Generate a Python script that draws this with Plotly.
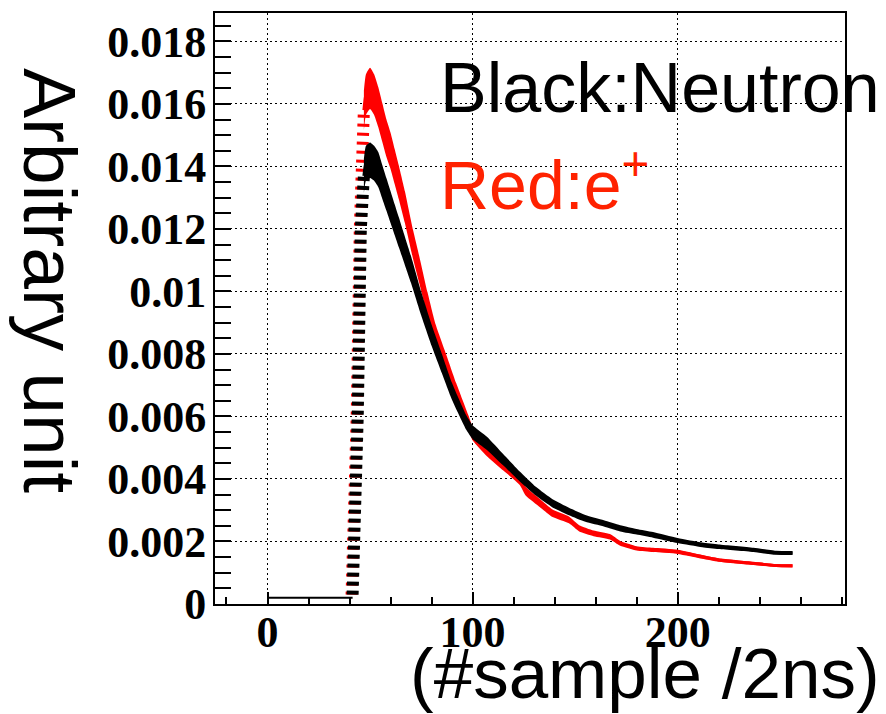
import plotly.graph_objects as go

# Averaged pulse shapes (amplitude per 2 ns sample), normalised to unit area
# Pedestal before the pulse
pedestal_x = [0, 41.5]
pedestal_y = [0.0002, 0.0002]

# Leading edge samples
neutron_rise_x = [41.5, 43, 44, 45.5, 47]
neutron_rise_y = [0.0003, 0.003, 0.006, 0.012, 0.0137]
positron_rise_x = [41, 42.5, 43.5, 45, 46.5, 47]
positron_rise_y = [0.0003, 0.003, 0.006, 0.012, 0.0148, 0.0158]

# Neutron pulse (peak and tail) with per-sample uncertainty
neutron_x = [47, 48, 50, 52, 54, 56, 58, 60, 62, 64,
             66, 70, 75, 80, 85, 90, 97, 100, 107, 115,
             123, 131, 139, 147, 155, 164, 172, 180, 188, 200,
             212, 220, 237, 248, 256]
neutron_y = [0.0137, 0.0141, 0.0142, 0.0141, 0.0139, 0.0135, 0.0131, 0.0127, 0.0123, 0.0119,
             0.0115, 0.0107, 0.0096, 0.0086, 0.0077, 0.0068, 0.0058, 0.0055, 0.00514, 0.00461,
             0.00408, 0.0036, 0.00322, 0.00296, 0.00274, 0.00258, 0.00242, 0.00231, 0.00221, 0.00203,
             0.00189, 0.00183, 0.00173, 0.00164, 0.00163]
neutron_err = [0.00055, 0.00056, 0.00057, 0.00056, 0.00056, 0.00054, 0.00052, 0.00051, 0.00049, 0.00048,
               0.00046, 0.00043, 0.00038, 0.00034, 0.00031, 0.00027, 0.00023, 0.00022, 0.00021, 0.00018,
               0.00016, 0.00014, 0.00013, 0.00012, 0.00011, 0.0001, 0.0001, 0.00009, 0.00009, 0.00008,
               0.000075, 0.000073, 0.000069, 0.000066, 0.000065]

# Positron pulse (peak and tail) with per-sample uncertainty
positron_x = [47, 48, 50, 52, 54, 56, 58, 60, 62, 64,
              67, 71, 74, 78, 82, 87, 92, 98, 100, 107,
              115, 123, 126, 133, 139, 147, 152, 159, 167, 172,
              180, 188, 200, 212, 220, 237, 248, 256]
positron_y = [0.0158, 0.0163, 0.0165, 0.0163, 0.0159, 0.0154, 0.0149, 0.0145, 0.0140, 0.0135,
              0.0127, 0.0115, 0.0107, 0.0096, 0.0086, 0.0077, 0.0068, 0.0058, 0.00546, 0.00493,
              0.00445, 0.00397, 0.0036, 0.00322, 0.0029, 0.00269, 0.00242, 0.00226, 0.00215, 0.00194,
              0.00178, 0.00173, 0.00167, 0.00151, 0.00141, 0.0013, 0.00123, 0.00122]
positron_err = [0.00063, 0.00065, 0.00066, 0.00065, 0.00064, 0.00062, 0.0006, 0.00058, 0.00056, 0.00054,
                0.00051, 0.00046, 0.00043, 0.00038, 0.00034, 0.00031, 0.00027, 0.00023, 0.00022, 0.0002,
                0.00018, 0.00016, 0.00014, 0.00013, 0.00012, 0.00011, 0.0001, 0.00009, 0.000086, 0.000078,
                0.000071, 0.000069, 0.000067, 0.00006, 0.000056, 0.000052, 0.000049, 0.000049]

y_tickvals = [0, 0.002, 0.004, 0.006, 0.008, 0.01, 0.012, 0.014, 0.016, 0.018]
y_ticktext = ["0", "0.002", "0.004", "0.006", "0.008", "0.01", "0.012", "0.014", "0.016", "0.018"]
x_tickvals = [0, 100, 200]
x_ticktext = ["0", "100", "200"]

RED = "#ff0000"
BLACK = "#000000"

fig = go.Figure()


def add_pulse(xs, ys, errs, rise_x, rise_y, color, dash):
    lower = [v - e for v, e in zip(ys, errs)]
    upper = [v + e for v, e in zip(ys, errs)]
    smooth = dict(shape="spline", smoothing=0.5)
    # leading edge drawn as a column of short error-bar dashes
    fig.add_trace(go.Scatter(x=rise_x, y=rise_y, mode="lines",
                             line=dict(color=color, width=12, dash=dash),
                             hoverinfo="skip", showlegend=False))
    fig.add_trace(go.Scatter(x=xs, y=lower, mode="lines", line=dict(width=0, color=color, **smooth),
                             hoverinfo="skip", showlegend=False))
    fig.add_trace(go.Scatter(x=xs, y=upper, mode="lines", line=dict(width=0, color=color, **smooth),
                             fill="tonexty", fillcolor=color,
                             hoverinfo="skip", showlegend=False))
    fig.add_trace(go.Scatter(x=xs, y=ys, mode="lines", line=dict(color=color, width=3, **smooth),
                             showlegend=False))


add_pulse(positron_x, positron_y, positron_err, positron_rise_x, positron_rise_y, RED, "3px,6px")
fig.add_trace(go.Scatter(x=pedestal_x, y=pedestal_y, mode="lines",
                         line=dict(color=BLACK, width=2), showlegend=False))
add_pulse(neutron_x, neutron_y, neutron_err, neutron_rise_x, neutron_rise_y, BLACK, "4px,5px")

tick_font = dict(family="Liberation Serif", size=44, color="black", weight="bold")

fig.update_xaxes(
    range=[-25.6, 281.6],
    tickvals=x_tickvals, ticktext=x_ticktext,
    ticks="inside", ticklen=12, tickwidth=2, tickcolor="black",
    minor=dict(dtick=20, tick0=0, ticks="inside", ticklen=7, tickwidth=2,
               tickcolor="black", showgrid=False),
    showgrid=True, gridcolor="black", gridwidth=1, griddash="2px,3px",
    showline=True, linecolor="black", linewidth=2, mirror=True,
    zeroline=False, tickfont=tick_font, ticklabelstandoff=-12,
)
fig.update_yaxes(
    range=[0, 0.01891],
    tickvals=y_tickvals, ticktext=y_ticktext,
    ticks="inside", ticklen=16, tickwidth=2, tickcolor="black",
    minor=dict(dtick=0.0005, tick0=0, ticks="inside", ticklen=16, tickwidth=2,
               tickcolor="black", showgrid=False),
    showgrid=True, gridcolor="black", gridwidth=1, griddash="2px,3px",
    showline=True, linecolor="black", linewidth=2, mirror=True,
    zeroline=False, tickfont=tick_font, ticklabelstandoff=-2,
)

L, R, T, B = 215, 41, 13, 110
W, H = 886, 714
pw, ph = W - L - R, H - T - B


def px(xp):
    return (xp - L) / pw


def py(yp):
    return (H - B - yp) / ph


sans = "Liberation Sans"
fig.add_annotation(text="Black:Neutron", xref="paper", yref="paper",
                   x=px(438), y=py(88), xanchor="left", yanchor="middle",
                   showarrow=False, font=dict(family=sans, size=70, color="black"))
fig.add_annotation(text="Red:e<sup>+</sup>", xref="paper", yref="paper",
                   x=px(438), y=py(180), xanchor="left", yanchor="middle",
                   showarrow=False, font=dict(family=sans, size=68, color="#ff2200"))
fig.add_annotation(text="Arbitrary unit", xref="paper", yref="paper",
                   x=px(50), y=py(280), xanchor="center", yanchor="middle", textangle=90,
                   showarrow=False, font=dict(family=sans, size=75, color="black"))
fig.add_annotation(text="(#sample /2ns)", xref="paper", yref="paper",
                   x=px(882), y=py(673), xanchor="right", yanchor="middle",
                   showarrow=False, font=dict(family=sans, size=71, color="black"))

fig.update_layout(
    width=W, height=H,
    margin=dict(l=L, r=R, t=T, b=B),
    paper_bgcolor="white", plot_bgcolor="white",
    showlegend=False,
)

fig.write_html("out.html")
